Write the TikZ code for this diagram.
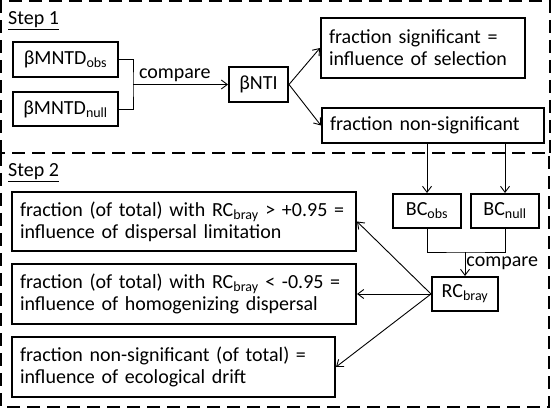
\documentclass[tikz,border=0pt]{standalone}
\usepackage{fontspec}
\setmainfont{Carlito}
\usetikzlibrary{arrows.meta}
\begin{document}
\begin{tikzpicture}[x=1pt,y=1pt,
  font=\fontsize{20}{22}\selectfont,
  bx/.style={draw, line width=2pt, inner sep=0pt},
  conn/.style={line width=0.9pt},
  arr/.style={conn, -{Straight Barb[length=6pt,width=9pt]}},
  stepframe/.style={line width=2.5pt, dash pattern=on 13pt off 7pt},
  steplabel/.style={anchor=base west, inner sep=0pt}
]
\useasboundingbox (0,0) rectangle (552,-409);
% frames
\draw[stepframe] (1,-153) -- (1,-1) -- (550,-1) -- (550,-153);
\draw[stepframe] (1,-153) rectangle (549,-407);
\node[steplabel] (s1) at (8,-24.5) {\underline{Step 1}};
\node[steplabel] (s2) at (8,-176.5) {\underline{Step 2}};
% step 1 nodes
\node[bx, minimum width=105pt, minimum height=35pt] (obs) at (65.5,-59.5) {βMNTD\textsubscript{obs}};
\node[bx, minimum width=105pt, minimum height=34pt] (null) at (65.5,-109) {βMNTD\textsubscript{null}};
\node[bx, minimum width=59pt, minimum height=35pt] (nti) at (258.5,-84.5) {βNTI};
\node[bx, minimum width=204pt, minimum height=60pt, align=left, text width=188pt] (sig) at (423,-48) {fraction significant =\\influence of selection};
\node[bx, minimum width=222pt, minimum height=35pt, align=left, text width=206pt] (nonsig) at (433,-125.5) {fraction non-significant};
\coordinate (j1) at (133,-84.5);
\draw[conn] (obs.east) -| (j1) |- (null.east);
\draw[arr] (j1) -- node[above, inner sep=2pt, pos=0.44] (cmp1) {compare} (nti.west);
\draw[arr] (nti.east) -- (sig.west);
\draw[arr] (nti.east) -- (nonsig.west);
% step 2 nodes
\node[bx, minimum width=68pt, minimum height=34pt] (bcobs) at (427,-211) {BC\textsubscript{obs}};
\node[bx, minimum width=68pt, minimum height=34pt] (bcnull) at (505,-211) {BC\textsubscript{null}};
\node[bx, minimum width=66pt, minimum height=34pt] (rc) at (465,-294) {RC\textsubscript{bray}};
\node[bx, minimum width=344pt, minimum height=59pt, align=left, text width=328pt] (b1) at (184,-221.5) {fraction (of total) with RC\textsubscript{bray} > +0.95 =\\influence of dispersal limitation};
\node[bx, minimum width=344pt, minimum height=60pt, align=left, text width=328pt] (b2) at (184,-294) {fraction (of total) with RC\textsubscript{bray} < -0.95 =\\influence of homogenizing dispersal};
\node[bx, minimum width=323pt, minimum height=60pt, align=left, text width=307pt] (b3) at (173.5,-367) {fraction non-significant (of total) =\\influence of ecological drift};
\draw[arr] (bcobs.north |- nonsig.south) -- (bcobs.north);
\draw[arr] (bcnull.north |- nonsig.south) -- (bcnull.north);
\coordinate (j2) at (465,-252);
\draw[conn] (bcobs.south) |- (j2) -| (bcnull.south);
\draw[arr] (j2) -- node[right, inner sep=1pt, pos=0.45] (cmp2) {compare} (rc.north);
\draw[arr] (rc.west) -- (b1.east);
\draw[arr] (rc.west) -- (b2.east);
\draw[arr] (rc.west) -- (b3.east);
\end{tikzpicture}
\end{document}
